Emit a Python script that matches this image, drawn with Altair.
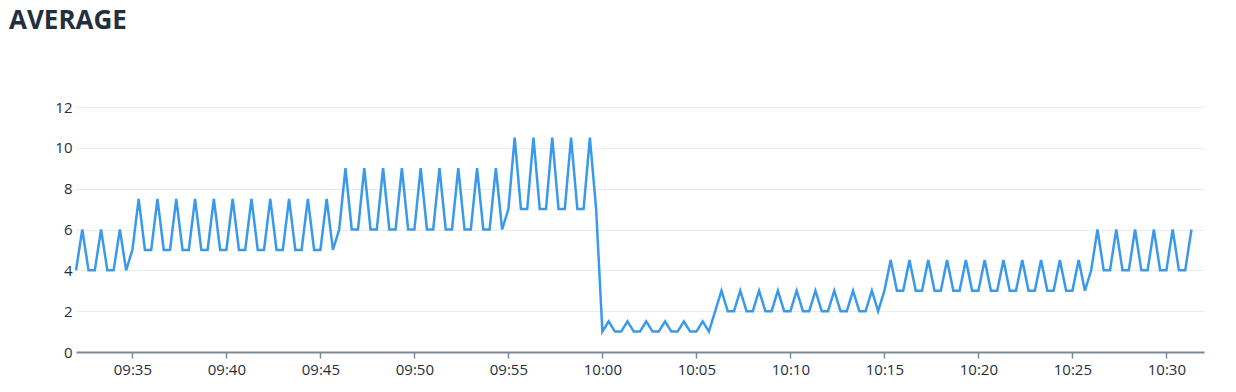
import altair as alt
import pandas as pd

# Sample timestamps (every 20 s) and averaged values, grouped by minute
start_time = "2024-01-01T09:32:00"
minute_values = [
    [4, 6, 4], [4, 6, 4], [4, 6, 4],                       # 09:32-09:34
    [5, 7.5, 5], [5, 7.5, 5], [5, 7.5, 5], [5, 7.5, 5],     # 09:35-09:38
    [5, 7.5, 5], [5, 7.5, 5], [5, 7.5, 5], [5, 7.5, 5],     # 09:39-09:42
    [5, 7.5, 5], [5, 7.5, 5], [5, 7.5, 5],                  # 09:43-09:45
    [6, 9, 6], [6, 9, 6], [6, 9, 6], [6, 9, 6], [6, 9, 6],  # 09:46-09:50
    [6, 9, 6], [6, 9, 6], [6, 9, 6], [6, 9, 6],             # 09:51-09:54
    [7, 10.5, 7], [7, 10.5, 7], [7, 10.5, 7], [7, 10.5, 7], [7, 10.5, 7],  # 09:55-09:59
    [1, 1.5, 1], [1, 1.5, 1], [1, 1.5, 1], [1, 1.5, 1], [1, 1.5, 1], [1, 1.5, 1],  # 10:00-10:05
    [2, 3, 2], [2, 3, 2], [2, 3, 2], [2, 3, 2], [2, 3, 2],  # 10:06-10:10
    [2, 3, 2], [2, 3, 2], [2, 3, 2], [2, 3, 2],             # 10:11-10:14
    [3, 4.5, 3], [3, 4.5, 3], [3, 4.5, 3], [3, 4.5, 3],     # 10:15-10:18
    [3, 4.5, 3], [3, 4.5, 3], [3, 4.5, 3], [3, 4.5, 3],     # 10:19-10:22
    [3, 4.5, 3], [3, 4.5, 3], [3, 4.5, 3],                  # 10:23-10:25
    [4, 6, 4], [4, 6, 4], [4, 6, 4], [4, 6, 4], [4, 6, 4],  # 10:26-10:30
    [4, 6],                                                 # 10:31
]
values = [v for m in minute_values for v in m]
times = pd.date_range(start=start_time, periods=len(values), freq="20s")

df = pd.DataFrame({"time": times.strftime("%Y-%m-%dT%H:%M:%S"), "value": values})

tick_minutes = [(9, 35), (9, 40), (9, 45), (9, 50), (9, 55), (10, 0),
                (10, 5), (10, 10), (10, 15), (10, 20), (10, 25), (10, 30)]
y_ticks = [0, 2, 4, 6, 8, 10, 12]

x_domain = [alt.DateTime(year=2024, month=1, date=1, hours=9, minutes=32),
            alt.DateTime(year=2024, month=1, date=1, hours=10, minutes=32)]
x_ticks = [alt.DateTime(year=2024, month=1, date=1, hours=h, minutes=m) for h, m in tick_minutes]

line = alt.Chart(df).mark_line(color="#3b99e9", strokeWidth=2.5).encode(
    x=alt.X(
        "time:T",
        scale=alt.Scale(domain=x_domain, nice=False),
        axis=alt.Axis(
            title=None,
            format="%H:%M",
            values=x_ticks,
            grid=False,
            domainColor="#7d8998",
            domainWidth=2,
            tickColor="#7d8998",
            tickWidth=1.5,
            tickSize=6,
            labelFont="Open Sans",
            labelFontSize=15,
            labelColor="#232f3e",
            labelPadding=4,
        ),
    ),
    y=alt.Y(
        "value:Q",
        scale=alt.Scale(domain=[0, 12], nice=False),
        axis=alt.Axis(
            title=None,
            values=y_ticks,
            domain=False,
            ticks=False,
            gridColor="#e9ebed",
            gridWidth=1,
            labelFont="Open Sans",
            labelFontSize=15,
            labelColor="#232f3e",
            labelPadding=4,
        ),
    ),
)

chart = line.properties(
    width=1128,
    height=245,
    title=alt.TitleParams(
        text="AVERAGE",
        anchor="start",
        frame="group",
        font="Open Sans",
        fontSize=26,
        fontWeight="bold",
        color="#232f3e",
        offset=66,
        dx=-67,
    ),
    autosize=alt.AutoSizeParams(type="none"),
    padding={"left": 76, "top": 107, "right": 32, "bottom": 40},
).configure_view(strokeWidth=0)

chart.save("out.html", embed_options={"renderer": "svg", "actions": False})
